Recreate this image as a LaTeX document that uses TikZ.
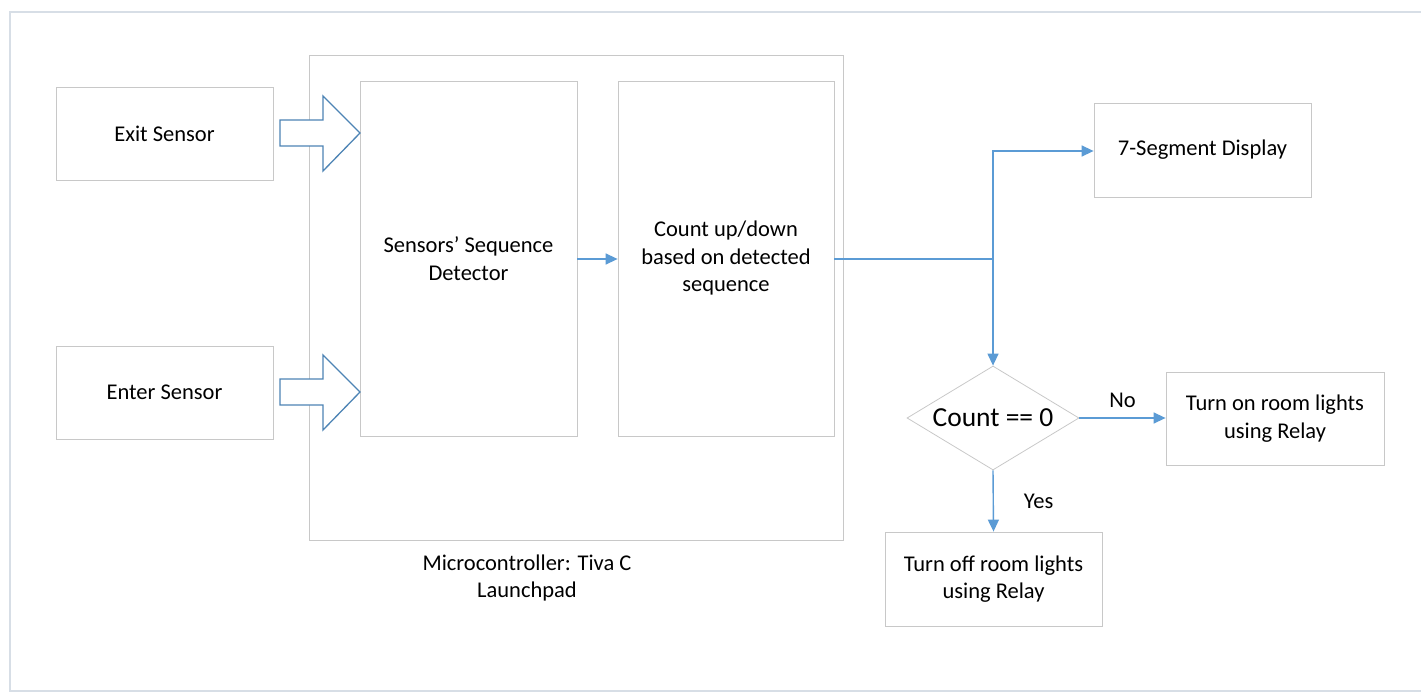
\documentclass[tikz,border=0pt]{standalone}
\usepackage{fontspec}
\setmainfont{Carlito}
\usetikzlibrary{shapes.geometric,arrows.meta}
\definecolor{bx}{RGB}{200,200,200}
\definecolor{ar}{RGB}{91,155,213}
\definecolor{fr}{RGB}{215,222,230}
\begin{document}
\begin{tikzpicture}[x=1pt,y=-1pt,
  box/.style={draw=bx,line width=0.8pt,fill=white,align=center,font=\fontsize{22.5}{27.5}\selectfont,inner sep=0pt},
  conn/.style={draw=ar,line width=1.4pt},
  arr/.style={conn,-{Triangle[length=12pt,width=11pt]}},
  blockarr/.style={draw=ar!85!black,line width=1.3pt,fill=white,line join=miter},
  lab/.style={font=\fontsize{22.5}{27.5}\selectfont,inner sep=0pt}]
\useasboundingbox (0,0) rectangle (1421,692);
% outer frame
\draw[fr,line width=1.5pt] (1421,12) -- (10,12) -- (10,691) -- (1421,691);
% microcontroller
\node[box,minimum width=534pt,minimum height=485pt] (mcu) at (576,297.5) {};
\node[lab,align=center] (mcul) at (527,578) {Microcontroller: Tiva C\\Launchpad};
% sensors
\node[box,minimum width=217pt,minimum height=93pt] (exit) at (164.5,133.5) {Exit Sensor};
\node[box,minimum width=217pt,minimum height=93pt] (enter) at (164.5,392.5) {Enter Sensor};
\node[box,minimum width=217pt,minimum height=355pt] (seq) at (468.5,258.5) {Sensors’ Sequence\\Detector};
\node[box,minimum width=216pt,minimum height=355pt] (cnt) at (726,258.5) {Count up/down\\based on detected\\sequence};
% block arrows
\foreach \y in {133,392}{
  \draw[blockarr] (280,\y-13) -- (323,\y-13) -- (323,\y-37) -- (360,\y) -- (323,\y+38) -- (323,\y+13) -- (280,\y+13) -- cycle;
}
% right side
\node[box,minimum width=217pt,minimum height=94pt] (seg) at (1202.5,150) {7-Segment Display};
\node[draw=bx,line width=0.8pt,diamond,aspect=1.65,minimum width=172pt,minimum height=104pt,inner sep=0pt,font=\fontsize{27.5}{32}\selectfont] (dec) at (993,418) {Count == 0};
\node[box,minimum width=218pt,minimum height=93pt] (on) at (1275,418.5) {Turn on room lights\\using Relay};
\node[box,minimum width=217pt,minimum height=94pt] (off) at (993.5,579) {Turn off room lights\\using Relay};
% connectors
\draw[arr] (seq.east |- 0,259) -- (cnt.west |- 0,259);
\coordinate (j) at (993,259);
\coordinate (jt) at (993,151);
\draw[conn] (cnt.east |- 0,259) -- (j);
\draw[arr] (j) -- (jt) -- (seg.west |- jt);
\draw[arr] (j) -- (dec.north);
\draw[arr] (dec.east) -- (on.west |- dec.east) node[lab,midway,above=10pt] (no) {No};
\draw[arr] (dec.south) -- (off.north) node[lab,midway,right=30pt] (yes) {Yes};
\end{tikzpicture}
\end{document}
